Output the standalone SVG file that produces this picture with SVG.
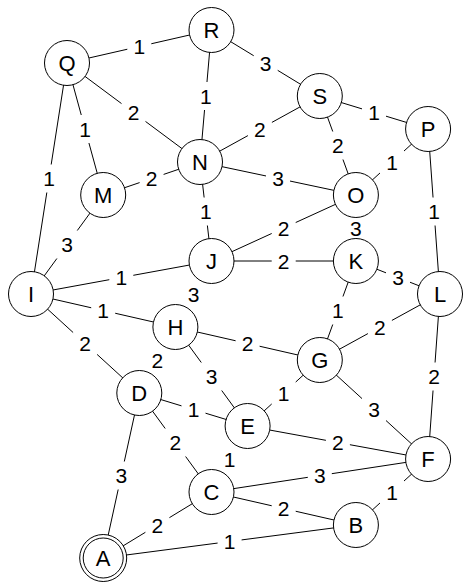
<svg xmlns="http://www.w3.org/2000/svg" width="463" height="583" viewBox="0 0 463 583">
<style>
.e{stroke:#000;stroke-width:1;fill:none}
.lb rect{fill:#fff;stroke:none}
.lb text,.n text{font-family:"Liberation Sans",Arial,sans-serif;text-anchor:middle;fill:#000}
.lb text{font-size:21px}
.n text{font-size:22px}
.n circle{fill:#fff;stroke:#000;stroke-width:1}
</style>
<rect width="463" height="583" fill="#fff"/>
<g id="connectors">
<line class="e" x1="67" y1="63" x2="211.5" y2="30"/>
<line class="e" x1="67" y1="63" x2="200" y2="162"/>
<line class="e" x1="67" y1="63" x2="103.2" y2="195"/>
<line class="e" x1="67" y1="63" x2="31" y2="294"/>
<line class="e" x1="211.5" y1="30" x2="200" y2="162"/>
<line class="e" x1="211.5" y1="30" x2="319.8" y2="96"/>
<line class="e" x1="103.2" y1="195" x2="200" y2="162"/>
<line class="e" x1="200" y1="162" x2="319.8" y2="96"/>
<line class="e" x1="319.8" y1="96" x2="428.1" y2="129"/>
<line class="e" x1="319.8" y1="96" x2="355.9" y2="195"/>
<line class="e" x1="428.1" y1="129" x2="355.9" y2="195"/>
<line class="e" x1="200" y1="162" x2="355.9" y2="195"/>
<line class="e" x1="200" y1="162" x2="211.5" y2="261"/>
<line class="e" x1="103.2" y1="195" x2="31" y2="294"/>
<line class="e" x1="31" y1="294" x2="211.5" y2="261"/>
<line class="e" x1="211.5" y1="261" x2="355.9" y2="195"/>
<line class="e" x1="211.5" y1="261" x2="355.9" y2="261"/>
<line class="e" x1="355.9" y1="195" x2="355.9" y2="261"/>
<line class="e" x1="211.5" y1="261" x2="175.4" y2="327"/>
<line class="e" x1="31" y1="294" x2="175.4" y2="327"/>
<line class="e" x1="31" y1="294" x2="139.3" y2="393"/>
<line class="e" x1="355.9" y1="261" x2="440" y2="294"/>
<line class="e" x1="355.9" y1="261" x2="319.8" y2="360"/>
<line class="e" x1="428.1" y1="129" x2="440" y2="294"/>
<line class="e" x1="175.4" y1="327" x2="319.8" y2="360"/>
<line class="e" x1="319.8" y1="360" x2="440" y2="294"/>
<line class="e" x1="175.4" y1="327" x2="139.3" y2="393"/>
<line class="e" x1="175.4" y1="327" x2="247.6" y2="426"/>
<line class="e" x1="319.8" y1="360" x2="247.6" y2="426"/>
<line class="e" x1="319.8" y1="360" x2="428.1" y2="459"/>
<line class="e" x1="440" y1="294" x2="428.1" y2="459"/>
<line class="e" x1="139.3" y1="393" x2="247.6" y2="426"/>
<line class="e" x1="139.3" y1="393" x2="211.5" y2="492"/>
<line class="e" x1="139.3" y1="393" x2="103.2" y2="558"/>
<line class="e" x1="247.6" y1="426" x2="428.1" y2="459"/>
<line class="e" x1="247.6" y1="426" x2="211.5" y2="492"/>
<line class="e" x1="211.5" y1="492" x2="428.1" y2="459"/>
<line class="e" x1="211.5" y1="492" x2="355.9" y2="525"/>
<line class="e" x1="211.5" y1="492" x2="103.2" y2="558"/>
<line class="e" x1="355.9" y1="525" x2="428.1" y2="459"/>
<line class="e" x1="103.2" y1="558" x2="355.9" y2="525"/>
<g class="lb">
<rect x="127.3" y="32.5" width="24" height="28"/><text x="139.3" y="54">1</text>
<rect x="121.5" y="98.5" width="24" height="28"/><text x="133.5" y="120">2</text>
<rect x="73.1" y="115" width="24" height="28"/><text x="85.1" y="136.5">1</text>
<rect x="37" y="164.5" width="24" height="28"/><text x="49" y="186">1</text>
<rect x="193.8" y="82" width="24" height="28"/><text x="205.8" y="103.5">1</text>
<rect x="253.7" y="49" width="24" height="28"/><text x="265.7" y="70.5">3</text>
<rect x="139.6" y="164.5" width="24" height="28"/><text x="151.6" y="186">2</text>
<rect x="247.9" y="115" width="24" height="28"/><text x="259.9" y="136.5">2</text>
<rect x="362" y="98.5" width="24" height="28"/><text x="374" y="120">1</text>
<rect x="325.9" y="131.5" width="24" height="28"/><text x="337.9" y="153">2</text>
<rect x="380" y="148" width="24" height="28"/><text x="392" y="169.5">1</text>
<rect x="266" y="164.5" width="24" height="28"/><text x="278" y="186">3</text>
<rect x="193.8" y="197.5" width="24" height="28"/><text x="205.8" y="219">1</text>
<rect x="55.1" y="230.5" width="24" height="28"/><text x="67.1" y="252">3</text>
<rect x="109.3" y="263.5" width="24" height="28"/><text x="121.3" y="285">1</text>
<rect x="271.7" y="214" width="24" height="28"/><text x="283.7" y="235.5">2</text>
<rect x="271.7" y="247" width="24" height="28"/><text x="283.7" y="268.5">2</text>
<rect x="343.9" y="214" width="24" height="28"/><text x="355.9" y="235.5">3</text>
<rect x="181.5" y="280" width="24" height="28"/><text x="193.5" y="301.5">3</text>
<rect x="91.2" y="296.5" width="24" height="28"/><text x="103.2" y="318">1</text>
<rect x="73.1" y="329.5" width="24" height="28"/><text x="85.1" y="351">2</text>
<rect x="386" y="263.5" width="24" height="28"/><text x="398" y="285">3</text>
<rect x="325.9" y="296.5" width="24" height="28"/><text x="337.9" y="318">1</text>
<rect x="422" y="197.5" width="24" height="28"/><text x="434" y="219">1</text>
<rect x="235.6" y="329.5" width="24" height="28"/><text x="247.6" y="351">2</text>
<rect x="367.9" y="313" width="24" height="28"/><text x="379.9" y="334.5">2</text>
<rect x="145.4" y="346" width="24" height="28"/><text x="157.4" y="367.5">2</text>
<rect x="199.5" y="362.5" width="24" height="28"/><text x="211.5" y="384">3</text>
<rect x="271.7" y="379" width="24" height="28"/><text x="283.7" y="400.5">1</text>
<rect x="362" y="395.5" width="24" height="28"/><text x="374" y="417">3</text>
<rect x="422" y="362.5" width="24" height="28"/><text x="434" y="384">2</text>
<rect x="181.5" y="395.5" width="24" height="28"/><text x="193.5" y="417">1</text>
<rect x="163.4" y="428.5" width="24" height="28"/><text x="175.4" y="450">2</text>
<rect x="109.3" y="461.5" width="24" height="28"/><text x="121.3" y="483">3</text>
<rect x="325.9" y="428.5" width="24" height="28"/><text x="337.9" y="450">2</text>
<rect x="217.6" y="445" width="24" height="28"/><text x="229.6" y="466.5">1</text>
<rect x="307.8" y="461.5" width="24" height="28"/><text x="319.8" y="483">3</text>
<rect x="271.7" y="494.5" width="24" height="28"/><text x="283.7" y="516">2</text>
<rect x="145.4" y="511" width="24" height="28"/><text x="157.4" y="532.5">2</text>
<rect x="380" y="478" width="24" height="28"/><text x="392" y="499.5">1</text>
<rect x="217.6" y="527.5" width="24" height="28"/><text x="229.6" y="549">1</text>
</g>
</g>
<g id="Q" class="n"><circle cx="67" cy="63" r="22.5"/><text x="67" y="70.5">Q</text></g>
<g id="R" class="n"><circle cx="211.5" cy="30" r="22.5"/><text x="211.5" y="38">R</text></g>
<g id="S" class="n"><circle cx="319.8" cy="96" r="22.5"/><text x="319.8" y="104">S</text></g>
<g id="P" class="n"><circle cx="428.1" cy="129" r="22.5"/><text x="428.1" y="137">P</text></g>
<g id="N" class="n"><circle cx="200" cy="162" r="22.5"/><text x="200" y="170">N</text></g>
<g id="M" class="n"><circle cx="103.2" cy="195" r="22.5"/><text x="103.2" y="203">M</text></g>
<g id="O" class="n"><circle cx="355.9" cy="195" r="22.5"/><text x="355.9" y="203">O</text></g>
<g id="J" class="n"><circle cx="211.5" cy="261" r="22.5"/><text x="211.5" y="269">J</text></g>
<g id="K" class="n"><circle cx="355.9" cy="261" r="22.5"/><text x="355.9" y="269">K</text></g>
<g id="I" class="n"><circle cx="31" cy="294" r="22.5"/><text x="31" y="302">I</text></g>
<g id="L" class="n"><circle cx="440" cy="294" r="22.5"/><text x="440" y="302">L</text></g>
<g id="H" class="n"><circle cx="175.4" cy="327" r="22.5"/><text x="175.4" y="335">H</text></g>
<g id="G" class="n"><circle cx="319.8" cy="360" r="22.5"/><text x="319.8" y="368">G</text></g>
<g id="D" class="n"><circle cx="139.3" cy="393" r="22.5"/><text x="139.3" y="401">D</text></g>
<g id="E" class="n"><circle cx="247.6" cy="426" r="22.5"/><text x="247.6" y="434">E</text></g>
<g id="F" class="n"><circle cx="428.1" cy="459" r="22.5"/><text x="428.1" y="467">F</text></g>
<g id="C" class="n"><circle cx="211.5" cy="492" r="22.5"/><text x="211.5" y="500">C</text></g>
<g id="B" class="n"><circle cx="355.9" cy="525" r="22.5"/><text x="355.9" y="533">B</text></g>
<g id="A" class="n"><circle cx="103.2" cy="558" r="23.5"/><circle cx="103.2" cy="558" r="20"/><text x="103.2" y="566">A</text></g>
</svg>
